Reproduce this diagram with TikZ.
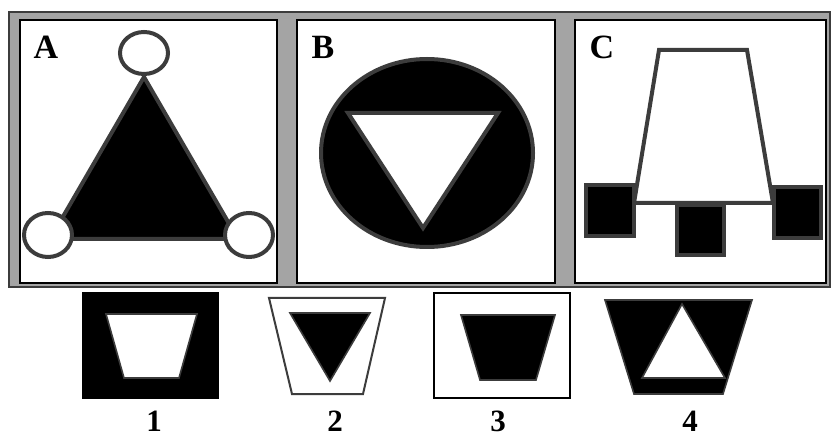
\documentclass[tikz,border=0pt]{standalone}
\usepackage{fontspec}
\setmainfont{Liberation Serif}
\begin{document}
\begin{tikzpicture}[x=1pt,y=-1pt,
  shp/.style={draw=dkgray,line width=4pt,line join=miter},
  thin/.style={draw=dkgray,line width=1.6pt,line join=miter},
  panel/.style={draw=black,line width=1.6pt,fill=white},
  lbl/.style={font=\bfseries\fontsize{34}{34}\selectfont,anchor=base,inner sep=0pt},
  num/.style={font=\bfseries\fontsize{31}{31}\selectfont,anchor=base,inner sep=0pt}]
\definecolor{dkgray}{HTML}{3C3C3C}
\definecolor{frame}{HTML}{A4A4A4}
\useasboundingbox (0,0) rectangle (832,435);
\fill[white] (0,0) rectangle (832,435);
% gray frame
\draw[fill=frame,draw=dkgray,line width=1.5pt] (9,12) rectangle (830,287);
\draw[panel] (20,20) rectangle (277,283);
\draw[panel] (297,20) rectangle (555,283);
\draw[panel] (575,20) rectangle (826,283);
% Panel A
\node[lbl] (la) at (46,59) {A};
\draw[shp,fill=black] (144,77) -- (50,239) -- (238,239) -- cycle;
\draw[shp,fill=white] (144,53) ellipse [x radius=24,y radius=21];
\draw[shp,fill=white] (48,235) ellipse [x radius=24,y radius=22];
\draw[shp,fill=white] (249,235) ellipse [x radius=24,y radius=22];
% Panel B
\node[lbl] (lb) at (323,59) {B};
\draw[shp,fill=black] (427,153) ellipse [x radius=106,y radius=94];
\draw[shp,fill=white] (348,113) -- (498,113) -- (423,228) -- cycle;
% Panel C
\node[lbl] (lc) at (602,59) {C};
\draw[shp,fill=white] (659,50) -- (747,50) -- (773,203) -- (634,203) -- cycle;
\draw[shp,fill=black] (586,185) rectangle (634,236);
\draw[shp,fill=black] (677,205) rectangle (724,255);
\draw[shp,fill=black] (774,187) rectangle (821,238);
% Option 1
\fill[black] (82,292) rectangle (219,399);
\draw[thin,fill=white] (106,314) -- (197,314) -- (179,378) -- (124,378) -- cycle;
\node[num] (n1) at (154,431) {1};
% Option 2
\draw[thin,line width=2pt,fill=white] (269,298) -- (385,298) -- (363,394) -- (292,394) -- cycle;
\draw[thin,fill=black] (290,313) -- (370,313) -- (330,381) -- cycle;
\node[num] (n2) at (335,431) {2};
% Option 3
\draw[draw=black,line width=2pt,fill=white] (434,293) rectangle (570,398);
\draw[thin,fill=black] (461,315) -- (555,315) -- (536,380) -- (480,380) -- cycle;
\node[num] (n3) at (498,431) {3};
% Option 4
\draw[thin,fill=black] (605,300) -- (752,300) -- (723,394) -- (634,394) -- cycle;
\draw[thin,fill=white] (682,304) -- (725,378) -- (642,378) -- cycle;
\node[num] (n4) at (690,431) {4};
\end{tikzpicture}
\end{document}
